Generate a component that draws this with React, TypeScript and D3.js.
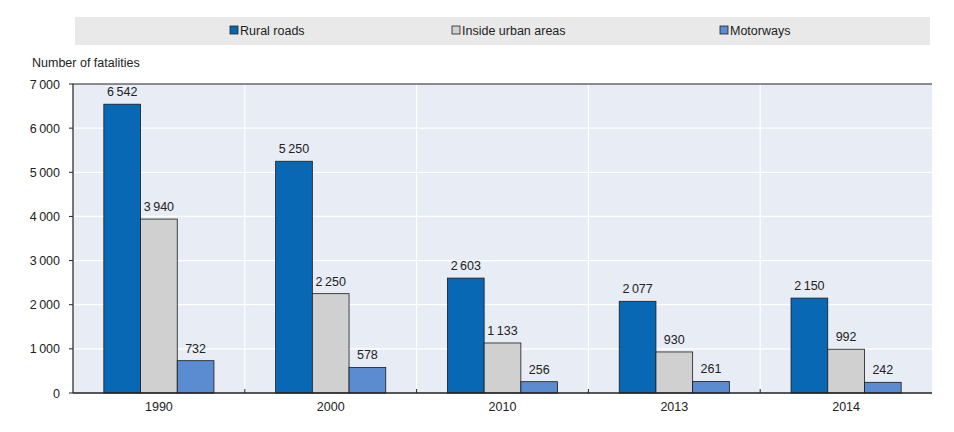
import React from 'react';
import * as d3 from 'd3';

const years = ['1990', '2000', '2010', '2013', '2014'];
const seriesNames = ['Rural roads', 'Inside urban areas', 'Motorways'];
const rural = [6542, 5250, 2603, 2077, 2150];
const urban = [3940, 2250, 1133, 930, 992];
const motorways = [732, 578, 256, 261, 242];
const yTicks = [0, 1000, 2000, 3000, 4000, 5000, 6000, 7000];
const colors = ['#0868b4', '#d0d0d0', '#5b8bd0'];

const fmt = (v: number) => d3.format(',')(v).replace(/,/g, '\u2009');

export default function App() {
  const W = 954, H = 432;
  const m = { left: 73, right: 22, top: 84, bottom: 39 };
  const x = d3.scaleBand().domain(years).range([m.left, W - m.right]);
  const inner = d3.scaleBand().domain(seriesNames).range([0, x.bandwidth()]).paddingOuter(0.84);
  const y = d3.scaleLinear().domain([0, 7000]).range([H - m.bottom, m.top]);
  const data = [rural, urban, motorways];
  const font = 'Liberation Sans Narrow, Arial Narrow, Liberation Sans, sans-serif';
  const legendX = [230, 452, 720];
  return (
    <svg width={W} height={H} style={{ position: 'absolute', left: 0, top: 0, fontFamily: font }}>
      <rect x={75} y={17} width={855} height={28} fill="#e9e9ea" />
      {seriesNames.map((s, i) => (
        <g key={s}>
          <rect x={legendX[i]} y={26} width={8} height={8} fill={colors[i]} stroke="#222" strokeWidth={0.8} />
          <text x={legendX[i] + 10} y={34.5} fontSize={12.5} fill="#222">{s}</text>
        </g>
      ))}
      <text x={32} y={67} fontSize={12.5} fill="#222">Number of fatalities</text>
      <rect x={m.left} y={m.top} width={W - m.right - m.left} height={y(0) - m.top} fill="#e8ecf5" />
      {yTicks.slice(1, -1).map(t => (
        <line key={t} x1={m.left} x2={W - m.right} y1={y(t)} y2={y(t)} stroke="#fff" strokeWidth={1.2} />
      ))}
      {years.slice(1).map(yr => (
        <line key={yr} x1={x(yr)!} x2={x(yr)!} y1={m.top} y2={y(0)} stroke="#fff" strokeWidth={1.2} />
      ))}
      {years.map((yr, yi) => data.map((ser, si) => {
        const bx = x(yr)! + inner(seriesNames[si])!;
        return (
          <g key={yr + si}>
            <rect x={bx} y={y(ser[yi])} width={inner.bandwidth()} height={y(0) - y(ser[yi])}
              fill={colors[si]} stroke="#1a1a1a" strokeWidth={0.8} />
            <text x={bx + inner.bandwidth() / 2} y={y(ser[yi]) - 8} textAnchor="middle" fontSize={12.5} fill="#222">{fmt(ser[yi])}</text>
          </g>
        );
      }))}
      <path d={`M${m.left},${y(0)}V${m.top}H${W - m.right}`} fill="none" stroke="#222" strokeWidth={1.2} />
      <line x1={m.left} x2={W - m.right} y1={y(0)} y2={y(0)} stroke="#222" strokeWidth={1.5} />
      {years.slice(1).map(yr => (
        <line key={yr} x1={x(yr)!} x2={x(yr)!} y1={y(0)} y2={y(0) - 4} stroke="#222" />
      ))}
      {yTicks.map(t => (
        <g key={t}>
          <line x1={m.left - 4} x2={m.left} y1={y(t)} y2={y(t)} stroke="#222" />
          <text x={60} y={y(t) + 4.5} textAnchor="end" fontSize={12.5} fill="#222">{fmt(t)}</text>
        </g>
      ))}
      {years.map(yr => (
        <text key={yr} x={x(yr)! + x.bandwidth() / 2} y={411} textAnchor="middle" fontSize={12.5} fill="#222">{yr}</text>
      ))}
    </svg>
  );
}
